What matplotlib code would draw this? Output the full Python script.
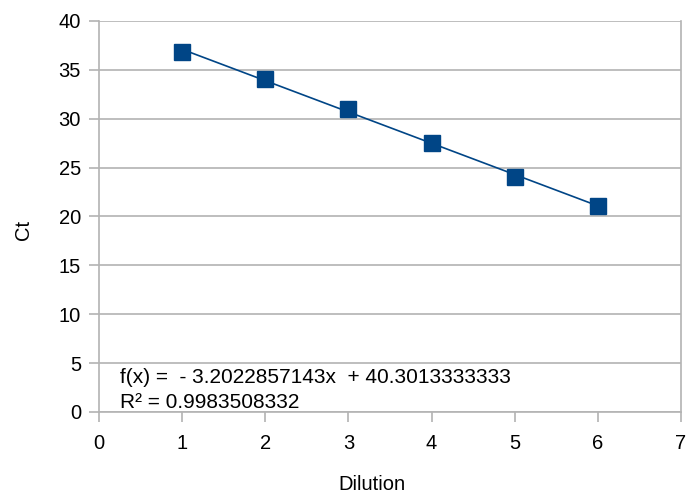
import numpy as np
import matplotlib
matplotlib.use('Agg')
import matplotlib.pyplot as plt

# data
dilution = [1, 2, 3, 4, 5, 6]
ct = [36.8, 34.05, 31.0, 27.55, 24.0, 21.1]
# trendline reported by the spreadsheet
slope = -3.2022857143
intercept = 40.3013333333
r2 = 0.9983508332

blue = '#004586'
grey = '#b3b3b3'

plt.rcParams['font.family'] = ['Liberation Sans', 'DejaVu Sans']

fig = plt.figure(figsize=(6.86, 4.95), dpi=100)
ax = fig.add_axes([0.1443, 0.1677, 0.8484, 0.7899])

ax.set_xlim(0, 7)
ax.set_ylim(0, 40)
ax.set_xticks(range(0, 8))
ax.set_yticks(range(0, 41, 5))
ax.yaxis.grid(True, color=grey, linewidth=1.2)
ax.set_axisbelow(True)

ax.spines['top'].set_visible(False)
for side in ['left', 'bottom', 'right']:
    ax.spines[side].set_color(grey)
    ax.spines[side].set_linewidth(1.2)
ax.tick_params(axis='both', colors=grey, length=7, width=1.2, labelsize=14.5,
               labelcolor='black')
ax.tick_params(axis='x', pad=9)
ax.tick_params(axis='y', pad=6)

# trendline
xs = np.array([dilution[0], dilution[-1]])
ax.plot(xs, slope * xs + intercept, color=blue, linewidth=1.2, zorder=3)
ax.plot(dilution, ct, linestyle='none', marker='s', markersize=11.5,
        color=blue, zorder=4, clip_on=False)

ax.text(0.25, 2.95, 'f(x) =  - 3.2022857143x  + 40.3013333333', fontsize=15)
ax.text(0.25, 0.45, 'R² = 0.9983508332', fontsize=15)

ax.set_xlabel('Dilution', fontsize=14.5)
ax.xaxis.set_label_coords(0.469, -0.16)
ax.set_ylabel('Ct', fontsize=14.5)
ax.yaxis.set_label_coords(-0.113, 0.465)

fig.savefig('out.png', dpi=100)
